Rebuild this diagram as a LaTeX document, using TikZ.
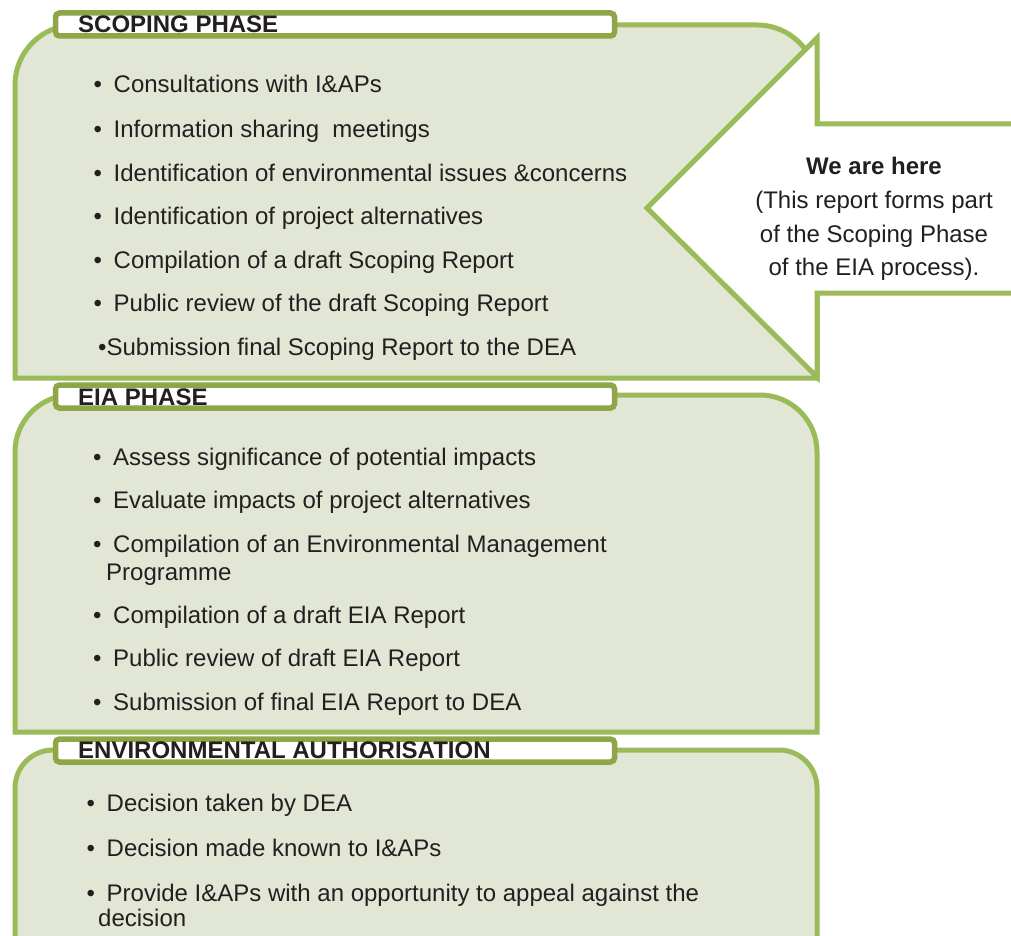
\documentclass[tikz,border=0pt]{standalone}
\usepackage{fontspec}
\setmainfont{Liberation Sans}
\definecolor{gline}{HTML}{9BBB59}
\definecolor{tabline}{HTML}{8EA648}
\definecolor{gfill}{HTML}{E2E6D5}
\definecolor{txt}{HTML}{231F20}
\newcommand{\bul}{\makebox[20pt][l]{•}}
\begin{document}
\begin{tikzpicture}[x=1pt,y=-1pt,
  boxline/.style={draw=gline, line width=5pt, fill=gfill, line join=miter},
  tabbox/.style={draw=tabline, line width=5.5pt, fill=white, rounded corners=4pt},
  item/.style={anchor=base west, inner sep=0pt, text=txt, font=\fontsize{24}{27}\selectfont},
  ttl/.style={anchor=base west, inner sep=0pt, text=txt, font=\fontsize{24}{27}\selectfont\bfseries},
  note/.style={anchor=base, inner sep=0pt, text=txt, font=\fontsize{24}{27}\selectfont},
  callout/.style={draw=gline, line width=5pt, line join=miter}
]
\clip (0,0) rectangle (1011,936);
\fill[white] (0,0) rectangle (1011,936);

% ---------- Scoping box ----------
\path[boxline] (15,378) -- (15,85) arc[start angle=180, end angle=270, radius=60]
  -- (757,25) arc[start angle=270, end angle=360, radius=60] -- (817,378) -- cycle;
% call-out arrow
\fill[white] (1030,124) -- (817,124) -- (817,38) -- (647,208) -- (817,377) -- (817,293) -- (1030,293) -- cycle;
\draw[callout] (1030,124) -- (817,124) -- (817,38) -- (647,208) -- (817,377) -- (817,293) -- (1030,293);
\draw[tabbox] (55.5,13) rectangle (614.5,36);
\node[ttl] (t1) at (78,33) {SCOPING PHASE};
\node[item] (s1) at (93.5,93)    {\bul Consultations with I\&APs};
\node[item] (s2) at (93.5,137.5) {\bul Information sharing\ \ meetings};
\node[item] (s3) at (93.5,181.5) {\bul Identification of environmental issues \&concerns};
\node[item] (s4) at (93.5,224.5) {\bul Identification of project alternatives};
\node[item] (s5) at (93.5,268.5) {\bul Compilation of a draft Scoping Report};
\node[item] (s6) at (93.5,311.5) {\bul Public review of the draft Scoping Report};
\node[item] (s7) at (98,355.5)   {•Submission final Scoping Report to the DEA};

\node[note,font=\fontsize{24}{27}\selectfont\bfseries] (n1) at (874,175) {We are here};
\node[note] (n2) at (874,208.5) {(This report forms part};
\node[note] (n3) at (874,242) {of the Scoping Phase};
\node[note] (n4) at (874,275.5) {of the EIA process).};

% ---------- EIA box ----------
\path[boxline] (15,732) -- (15,452) arc[start angle=180, end angle=270, radius=57]
  -- (760,395) arc[start angle=270, end angle=360, radius=57] -- (817,732) -- cycle;
\draw[tabbox] (55.5,385) rectangle (614.5,408);
\node[ttl] (t2) at (78,405) {EIA PHASE};
\node[item] (e1) at (93,465)   {\bul Assess significance of potential impacts};
\node[item] (e2) at (93,508.5) {\bul Evaluate impacts of project alternatives};
\node[item] (e3) at (93,552.5) {\bul Compilation of an Environmental Management};
\node[item] (e3b) at (106,580) {Programme};
\node[item] (e4) at (93,623.5) {\bul Compilation of a draft EIA Report};
\node[item] (e5) at (93,666.5) {\bul Public review of draft EIA Report};
\node[item] (e6) at (93,710.5) {\bul Submission of final EIA Report to DEA};

% ---------- Environmental authorisation box ----------
\path[boxline] (15,980) -- (15,788) arc[start angle=180, end angle=270, radius=38]
  -- (779,750) arc[start angle=270, end angle=360, radius=38] -- (817,980) -- cycle;
\draw[tabbox] (55.5,739) rectangle (614.5,762);
\node[ttl] (t3) at (78,758) {ENVIRONMENTAL AUTHORISATION};
\node[item] (a1) at (86.5,811) {\bul Decision taken by DEA};
\node[item] (a2) at (86.5,856) {\bul Decision made known to I\&APs};
\node[item] (a3) at (86.5,901) {\bul Provide I\&APs with an opportunity to appeal against the};
\node[item] (a3b) at (98,926) {decision};
\end{tikzpicture}
\end{document}
